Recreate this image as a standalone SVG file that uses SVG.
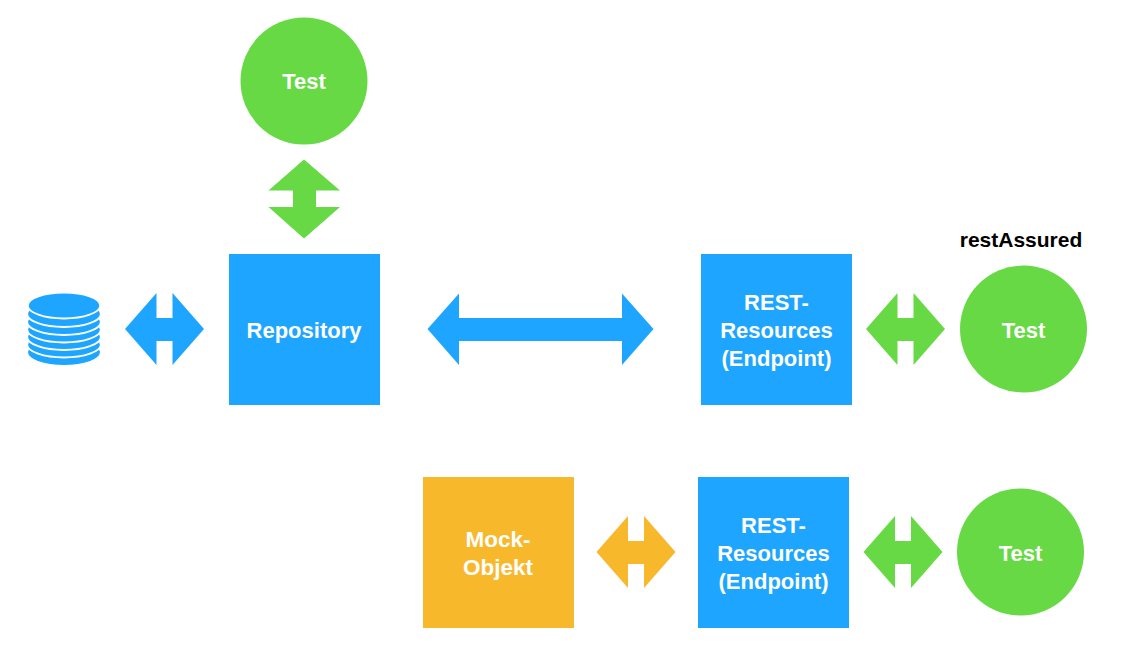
<svg xmlns="http://www.w3.org/2000/svg" width="1132" height="653" viewBox="0 0 1132 653">
<style>
.b{fill:#1ea5ff}.g{fill:#66d944}.o{fill:#f8b82c}
text{font-family:"Liberation Sans",Arial,sans-serif;font-weight:700;font-size:22px;text-anchor:middle;fill:#fff}
.disc{fill:#1ea5ff;stroke:#fff;stroke-width:1.8}
</style>
<defs>
<polygon id="h" points="-39.500,0 -8,-36 -8,-11 8,-11 8,-36 39.500,0 8,36 8,12 -8,12 -8,36"/>
</defs>
<rect width="1132" height="653" fill="#fff"/>
<g id="connectors">
<use href="#h" x="164.500" y="329" class="b"/>
<use href="#h" x="905.500" y="329" class="g"/>
<use href="#h" x="636" y="552" class="o"/>
<use href="#h" x="903" y="552" class="g"/>
<polygon class="b" points="427.500,329 459,293.500 459,318 622,318 622,293.500 653.500,329 622,365 622,341 459,341 459,365"/>
<polygon class="g" points="304,159.500 340,190.500 316,190.500 316,207 340,207 304,238.500 268.500,207 293,207 293,190.500 268.500,190.500"/>
</g>
<g id="database">
<ellipse class="b" cx="64" cy="352" rx="36" ry="13"/>
<ellipse class="disc" cx="64" cy="344.500" rx="36.800" ry="13"/>
<ellipse class="disc" cx="64" cy="337" rx="36.800" ry="13"/>
<ellipse class="disc" cx="64" cy="329.500" rx="36.800" ry="13"/>
<ellipse class="disc" cx="64" cy="322" rx="36.800" ry="13"/>
<ellipse class="disc" cx="64" cy="314" rx="36.800" ry="13"/>
<ellipse class="disc" cx="64" cy="305.500" rx="36.200" ry="13"/>
</g>
<g id="test-top"><circle class="g" cx="304" cy="81" r="63.500"/><text x="304" y="88.500">Test</text></g>
<g id="repository"><rect class="b" x="229" y="254" width="151" height="151"/><text x="304" y="337.500">Repository</text></g>
<g id="rest-top"><rect class="b" x="701" y="254" width="151" height="151"/><text x="776.500" y="309.500">REST-</text><text x="776.500" y="337.500">Resources</text><text x="776.500" y="365.500">(Endpoint)</text></g>
<g id="test-right"><circle class="g" cx="1023.500" cy="329" r="63.500"/><text x="1023.500" y="337.500">Test</text></g>
<g id="rest-assured-label"><text x="1021" y="247" style="fill:#000;font-size:21px">restAssured</text></g>
<g id="mock"><rect class="o" x="423" y="477" width="151" height="151"/><text x="498" y="546.500" style="font-size:22.500px">Mock-</text><text x="498" y="574.500" style="font-size:22.500px">Objekt</text></g>
<g id="rest-bottom"><rect class="b" x="698" y="477" width="151" height="151"/><text x="773.500" y="532.500">REST-</text><text x="773.500" y="560.500">Resources</text><text x="773.500" y="588.500">(Endpoint)</text></g>
<g id="test-bottom"><circle class="g" cx="1020.500" cy="552" r="63.500"/><text x="1020.500" y="560.500">Test</text></g>
</svg>
